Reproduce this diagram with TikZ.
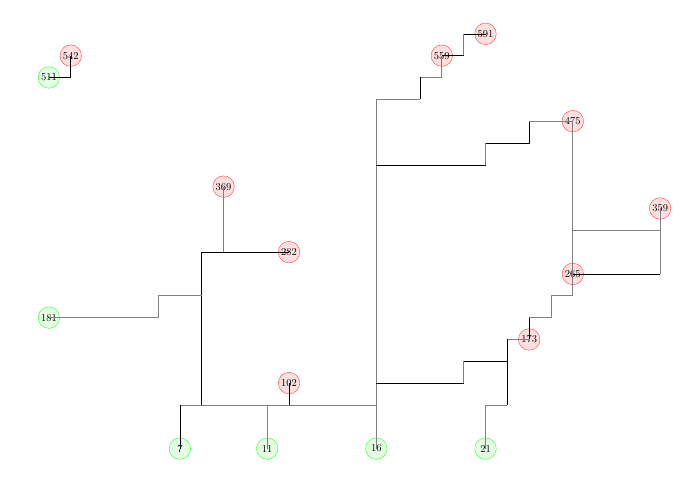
\documentclass[tikz,border=0pt]{standalone}
\begin{document}
\begin{tikzpicture}[x=21.83pt,y=-21.83pt,
  rn/.style={circle, draw=red!75, fill=red!12, minimum size=21.5pt, inner sep=0pt, font=\fontsize{10.5}{12}\selectfont},
  gn/.style={circle, draw=green!85, fill=green!10, minimum size=21.5pt, inner sep=0pt, font=\fontsize{10.5}{12}\selectfont},
  bl/.style={black, line width=0.6pt},
  gl/.style={black!50, line width=0.8pt}]
\useasboundingbox (-2.24,-1.55) rectangle (29.78,21.03);
% nodes
\node[rn] (n542) at (1,1) {542};
\node[gn] (n511) at (0,2) {511};
\node[rn] (n559) at (18,1) {559};
\node[rn] (n591) at (20,0) {591};
\node[rn] (n475) at (24,4) {475};
\node[rn] (n369) at (8,7) {369};
\node[rn] (n359) at (28,8) {359};
\node[rn] (n282) at (11,10) {282};
\node[rn] (n265) at (24,11) {265};
\node[gn] (n181) at (0,13) {181};
\node[rn] (n173) at (22,14) {173};
\node[rn] (n102) at (11,16) {102};
\node[gn] (n7) at (6,19) {7};
\node[gn] (n11) at (10,19) {11};
\node[gn] (n16) at (15,19) {16};
\node[gn] (n21) at (20,19) {21};
% junction coordinates
\coordinate (a1) at (1,2);
\coordinate (b1) at (19,0);
\coordinate (b2) at (19,1);
\coordinate (c1) at (18,2);
\coordinate (c2) at (17,2);
\coordinate (c3) at (17,3);
\coordinate (t3) at (15,3);
\coordinate (t6) at (15,6);
\coordinate (d1) at (20,6);
\coordinate (d2) at (20,5);
\coordinate (d3) at (22,5);
\coordinate (d4) at (22,4);
\coordinate (e9) at (24,9);
\coordinate (e12) at (24,12);
\coordinate (f1) at (28,9);
\coordinate (f2) at (28,11);
\coordinate (g1) at (23,12);
\coordinate (g2) at (23,13);
\coordinate (g3) at (22,13);
\coordinate (h1) at (21,14);
\coordinate (h2) at (21,15);
\coordinate (h3) at (21,17);
\coordinate (h4) at (19,15);
\coordinate (h5) at (19,16);
\coordinate (t16) at (15,16);
\coordinate (t17) at (15,17);
\coordinate (k1) at (20,17);
\coordinate (m6) at (6,17);
\coordinate (m7) at (7,17);
\coordinate (m10) at (10,17);
\coordinate (m11) at (11,17);
\coordinate (p1) at (7,10);
\coordinate (p2) at (8,10);
\coordinate (q1) at (7,12);
\coordinate (q2) at (5,12);
\coordinate (q3) at (5,13);
% connectors
\draw[bl] (n542.center) -- (a1) -- (n511.center);
\draw[bl] (n591.center) -- (b1);
\draw[gl] (b1) -- (b2);
\draw[bl] (b2) -- (n559.center);
\draw[gl] (n559.center) -- (c1) -- (c2);
\draw[bl] (c2) -- (c3);
\draw[gl] (c3) -- (t3) -- (n16.center);
\draw[bl] (t6) -- (d1);
\draw[gl] (d1) -- (d2);
\draw[bl] (d2) -- (d3) -- (d4);
\draw[gl] (d4) -- (n475.center) -- (e12);
\draw[gl] (e9) -- (f1) -- (n359.center);
\draw[gl] (f1) -- (f2);
\draw[bl] (f2) -- (n265.center);
\draw[gl] (e12) -- (g1) -- (g2) -- (g3);
\draw[bl] (g3) -- (n173.center);
\draw[gl] (n173.center) -- (h1);
\draw[bl] (h1) -- (h3);
\draw[bl] (h2) -- (h4);
\draw[gl] (h4) -- (h5);
\draw[bl] (h5) -- (t16);
\draw[gl] (h3) -- (k1) -- (n21.center);
\draw[gl] (m6) -- (t17);
\draw[bl] (m6) -- (n7.center);
\draw[gl] (m10) -- (n11.center);
\draw[bl] (n102.center) -- (m11);
\draw[bl] (m7) -- (p1) -- (n282.center);
\draw[gl] (n369.center) -- (p2);
\draw[gl] (q1) -- (q2) -- (q3) -- (n181.center);
\end{tikzpicture}
\end{document}
